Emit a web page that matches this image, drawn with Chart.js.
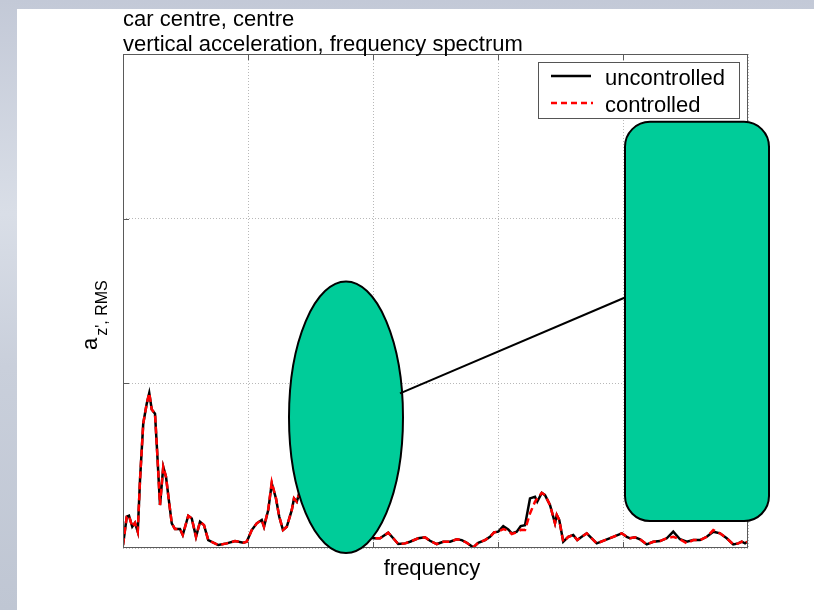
<!DOCTYPE html>
<html>
<head>
<meta charset="utf-8">
<script src="https://cdn.jsdelivr.net/npm/chart.js@4.4.1/dist/chart.umd.min.js"></script>
<style>
    html, body {
        margin: 0;
        padding: 0;
        width: 814px;
        height: 610px;
        overflow: hidden;
        background: linear-gradient(180deg, #c3c9d7 0%, #d9dee7 35%, #c9cfdb 60%, #bfc6d3 100%);
    }
    #panel {
        position: absolute;
        left: 17px;
        top: 9px;
        right: 0;
        bottom: 0;
        background: #ffffff;
    }
    #spectrum {
        position: absolute;
        left: 0;
        top: 0;
    }
</style>
</head>
<body>
<div id="panel"></div>
<canvas id="spectrum" width="814" height="610"></canvas>
<script>
// ============================================
// DATA
// ============================================

const titleLines = ["car centre, centre", "vertical acceleration, frequency spectrum"];
const xLabel = "frequency";
const seriesNames = ["uncontrolled", "controlled"];

const frequency = [
    0.000, 0.030, 0.048, 0.074, 0.096, 0.118, 0.136, 0.162, 0.190, 0.210,
    0.230, 0.256, 0.274, 0.296, 0.322, 0.344, 0.370, 0.390, 0.416, 0.456,
    0.478, 0.522, 0.550, 0.584, 0.616, 0.648, 0.682, 0.762, 0.830, 0.896,
    0.962, 0.990, 1.030, 1.070, 1.110, 1.128, 1.162, 1.190, 1.224, 1.250,
    1.280, 1.310, 1.350, 1.368, 1.390, 1.410, 1.456, 1.512, 1.576, 1.656,
    1.736, 1.816, 1.896, 1.952, 2.002, 2.056, 2.122, 2.162, 2.202, 2.256,
    2.296, 2.362, 2.416, 2.456, 2.510, 2.562, 2.616, 2.670, 2.710, 2.750,
    2.802, 2.842, 2.896, 2.936, 2.968, 3.002, 3.042, 3.082, 3.110, 3.150,
    3.182, 3.216, 3.256, 3.296, 3.314, 3.350, 3.376, 3.416, 3.456, 3.470,
    3.490, 3.522, 3.562, 3.602, 3.634, 3.670, 3.710, 3.750, 3.790, 3.856,
    3.922, 3.990, 4.030, 4.056, 4.096, 4.136, 4.190, 4.242, 4.296, 4.350,
    4.402, 4.456, 4.510, 4.562, 4.616, 4.670, 4.722, 4.776, 4.830, 4.882,
    4.922, 4.950, 4.976, 4.994,
];

const uncontrolled = [
    0.018, 0.190, 0.196, 0.129, 0.153, 0.099, 0.412, 0.756, 0.877, 0.941,
    0.841, 0.816, 0.574, 0.261, 0.493, 0.432, 0.271, 0.150, 0.115, 0.115,
    0.079, 0.196, 0.180, 0.068, 0.159, 0.139, 0.048, 0.018, 0.028, 0.042,
    0.032, 0.038, 0.109, 0.150, 0.170, 0.129, 0.230, 0.392, 0.301, 0.190,
    0.109, 0.129, 0.230, 0.301, 0.281, 0.332, 0.261, 0.158, 0.200, 0.121,
    0.097, 0.085, 0.067, 0.073, 0.059, 0.059, 0.093, 0.059, 0.024, 0.028,
    0.038, 0.059, 0.065, 0.044, 0.024, 0.038, 0.038, 0.053, 0.048, 0.032,
    0.004, 0.032, 0.048, 0.068, 0.095, 0.099, 0.133, 0.113, 0.089, 0.099,
    0.133, 0.139, 0.301, 0.311, 0.281, 0.335, 0.321, 0.261, 0.150, 0.200,
    0.170, 0.038, 0.068, 0.079, 0.048, 0.068, 0.089, 0.059, 0.028, 0.048,
    0.068, 0.089, 0.068, 0.059, 0.065, 0.053, 0.022, 0.038, 0.042, 0.059,
    0.099, 0.053, 0.038, 0.048, 0.048, 0.068, 0.099, 0.089, 0.059, 0.022,
    0.028, 0.038, 0.028, 0.038,
];

const controlled = [
    0.018, 0.190, 0.196, 0.129, 0.153, 0.099, 0.412, 0.756, 0.877, 0.941,
    0.841, 0.816, 0.574, 0.261, 0.493, 0.432, 0.271, 0.150, 0.115, 0.115,
    0.079, 0.196, 0.180, 0.068, 0.159, 0.139, 0.048, 0.018, 0.028, 0.042,
    0.032, 0.038, 0.109, 0.150, 0.170, 0.129, 0.235, 0.400, 0.301, 0.190,
    0.109, 0.129, 0.230, 0.301, 0.281, 0.332, 0.261, 0.158, 0.200, 0.121,
    0.097, 0.085, 0.067, 0.073, 0.059, 0.059, 0.093, 0.059, 0.024, 0.028,
    0.038, 0.059, 0.065, 0.044, 0.024, 0.038, 0.038, 0.053, 0.048, 0.032,
    0.004, 0.032, 0.048, 0.068, 0.095, 0.099, 0.115, 0.105, 0.085, 0.095,
    0.110, 0.109, 0.210, 0.281, 0.300, 0.335, 0.321, 0.261, 0.150, 0.200,
    0.170, 0.038, 0.068, 0.079, 0.048, 0.068, 0.089, 0.059, 0.028, 0.048,
    0.068, 0.089, 0.068, 0.059, 0.065, 0.053, 0.022, 0.038, 0.042, 0.059,
    0.068, 0.053, 0.028, 0.048, 0.048, 0.068, 0.109, 0.089, 0.059, 0.022,
    0.028, 0.038, 0.028, 0.038,
];

// covering shapes, placed in axis units
const ellipseShape = { x: 1.784, y: 0.794, rx: 0.456, ry: 0.824 };
const boxShape = { x0: 4.016, x1: 5.168, y0: 2.588, y1: 0.164, radius: 25 };
const connector = { x0: 2.216, y0: 0.939, x1: 4.016, y1: 1.521 };

// ============================================
// UTILITIES
// ============================================

const FONT = '"Liberation Sans", Arial, sans-serif';
const toPoints = (ys) => frequency.map((x, i) => ({ x, y: ys[i] }));

function strokeLine(ctx, x0, y0, x1, y1) {
    ctx.beginPath();
    ctx.moveTo(x0, y0);
    ctx.lineTo(x1, y1);
    ctx.stroke();
}

// ============================================
// DECORATION PLUGIN
// ============================================

const decorations = {
    id: "decorations",
    afterDraw(chart) {
        const { ctx, chartArea: area, scales } = chart;
        const sx = scales.x;
        const sy = scales.y;

        ctx.save();

        // frame and inward ticks on all four sides
        ctx.strokeStyle = "#5a5a5a";
        ctx.lineWidth = 1;
        ctx.strokeRect(area.left + 0.5, area.top + 0.5, area.right - area.left - 1, area.bottom - area.top - 1);
        for (let v = 1; v < 5; v++) {
            const px = Math.round(sx.getPixelForValue(v)) + 0.5;
            strokeLine(ctx, px, area.bottom, px, area.bottom - 6);
            strokeLine(ctx, px, area.top, px, area.top + 6);
        }
        for (let v = 1; v < 3; v++) {
            const py = Math.round(sy.getPixelForValue(v)) + 0.5;
            strokeLine(ctx, area.left, py, area.left + 6, py);
            strokeLine(ctx, area.right, py, area.right - 6, py);
        }

        // titles
        ctx.fillStyle = "#000";
        ctx.textBaseline = "alphabetic";
        ctx.textAlign = "left";
        ctx.font = `22px ${FONT}`;
        ctx.fillText(titleLines[0], area.left, 26);
        ctx.fillText(titleLines[1], area.left, 51);

        // x label
        ctx.textAlign = "center";
        ctx.fillText(xLabel, 432, 575);

        // y label with subscript
        ctx.save();
        ctx.translate(97, 350);
        ctx.rotate(-Math.PI / 2);
        ctx.textAlign = "left";
        ctx.font = `22px ${FONT}`;
        ctx.fillText("a", 0, 0);
        const aw = ctx.measureText("a").width;
        ctx.font = `16px ${FONT}`;
        ctx.fillText("z', RMS", aw + 2, 10);
        ctx.restore();

        // legend
        ctx.fillStyle = "#fff";
        ctx.fillRect(538, 62, 202, 57);
        ctx.strokeStyle = "#555";
        ctx.lineWidth = 1;
        ctx.strokeRect(538.5, 62.5, 201, 56);
        ctx.lineWidth = 2.5;
        ctx.strokeStyle = "#000";
        strokeLine(ctx, 551, 76, 591, 76);
        ctx.strokeStyle = "#ff0000";
        ctx.setLineDash([6, 4]);
        strokeLine(ctx, 551, 103, 593, 103);
        ctx.setLineDash([]);
        ctx.fillStyle = "#000";
        ctx.textAlign = "left";
        ctx.font = `22px ${FONT}`;
        ctx.fillText(seriesNames[0], 605, 85);
        ctx.fillText(seriesNames[1], 605, 112);

        // covering shapes
        ctx.fillStyle = "#00cc99";
        ctx.strokeStyle = "#000";
        ctx.lineWidth = 2;

        const cx = sx.getPixelForValue(ellipseShape.x);
        const cy = sy.getPixelForValue(ellipseShape.y);
        const rx = sx.getPixelForValue(ellipseShape.x + ellipseShape.rx) - cx;
        const ry = cy - sy.getPixelForValue(ellipseShape.y + ellipseShape.ry);
        ctx.beginPath();
        ctx.ellipse(cx, cy, rx, ry, 0, 0, Math.PI * 2);
        ctx.fill();
        ctx.stroke();

        strokeLine(
            ctx,
            sx.getPixelForValue(connector.x0), sy.getPixelForValue(connector.y0),
            sx.getPixelForValue(connector.x1), sy.getPixelForValue(connector.y1),
        );

        const bx0 = sx.getPixelForValue(boxShape.x0);
        const bx1 = sx.getPixelForValue(boxShape.x1);
        const by0 = sy.getPixelForValue(boxShape.y0);
        const by1 = sy.getPixelForValue(boxShape.y1);
        ctx.beginPath();
        ctx.roundRect(bx0, by0, bx1 - bx0, by1 - by0, boxShape.radius);
        ctx.fill();
        ctx.stroke();

        ctx.restore();
    },
};

// ============================================
// CHART
// ============================================

new Chart(document.getElementById("spectrum"), {
    type: "line",
    data: {
        datasets: [
            {
                label: seriesNames[0],
                data: toPoints(uncontrolled),
                borderColor: "#000000",
                borderWidth: 2.5,
                pointRadius: 0,
                tension: 0,
                order: 2,
            },
            {
                label: seriesNames[1],
                data: toPoints(controlled),
                borderColor: "#ff0000",
                borderWidth: 2.5,
                borderDash: [7, 4],
                pointRadius: 0,
                tension: 0,
                order: 1,
            },
        ],
    },
    options: {
        responsive: false,
        animation: false,
        devicePixelRatio: 1,
        layout: { padding: { left: 123, right: 66, top: 54, bottom: 62 } },
        plugins: {
            legend: { display: false },
            title: { display: false },
            tooltip: { enabled: false },
        },
        scales: {
            x: {
                type: "linear",
                min: 0,
                max: 5,
                ticks: { display: false, stepSize: 1 },
                grid: { color: "#b8b8b8", lineWidth: 1, drawTicks: false },
                border: { display: false, dash: [1, 2] },
            },
            y: {
                type: "linear",
                min: 0,
                max: 3,
                ticks: { display: false, stepSize: 1 },
                grid: { color: "#b8b8b8", lineWidth: 1, drawTicks: false },
                border: { display: false, dash: [1, 2] },
            },
        },
    },
    plugins: [decorations],
});
</script>
</body>
</html>
